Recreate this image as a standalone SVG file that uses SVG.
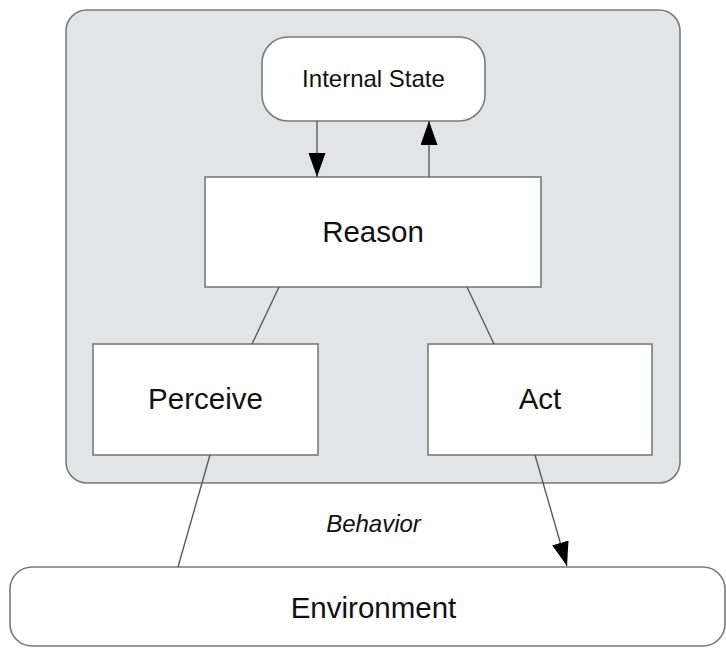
<svg xmlns="http://www.w3.org/2000/svg" width="726" height="648" viewBox="0 0 726 648">
<defs>
<marker id="arr" markerUnits="userSpaceOnUse" markerWidth="26" markerHeight="18" refX="24" refY="8.5" orient="auto">
<path d="M0,0 L24,8.5 L0,17 z" fill="#000"/>
</marker>
<style>
.box{fill:#fff;stroke:#7a7a7a;stroke-width:1.6}
.t{font-family:"Liberation Sans",Arial,sans-serif;fill:#111;text-anchor:middle}
.big{font-size:29.5px}
.small{font-size:24px}
.edge{stroke:#5a5a5a;stroke-width:1.4;fill:none}
</style>
</defs>
<rect width="726" height="648" fill="#fff"/>
<g id="agent">
<rect x="66" y="10" width="614" height="473" rx="21" ry="21" fill="#e2e5e8" stroke="#7a7a7a" stroke-width="1.6"/>
</g>
<g id="internal-state">
<rect class="box" x="262" y="37" width="223" height="84" rx="26" ry="26"/>
<text class="t small" x="373.5" y="87">Internal State</text>
</g>
<g id="reason">
<rect class="box" x="205" y="177" width="336" height="110"/>
<text class="t big" x="373" y="242">Reason</text>
</g>
<g id="perceive">
<rect class="box" x="93" y="344" width="225" height="111"/>
<text class="t big" x="205.5" y="409">Perceive</text>
</g>
<g id="act">
<rect class="box" x="428" y="344" width="224" height="111"/>
<text class="t big" x="540" y="409">Act</text>
</g>
<g id="environment">
<rect class="box" x="10" y="567" width="715" height="79" rx="22" ry="22"/>
<text class="t big" x="373.5" y="618">Environment</text>
</g>
<g id="connectors">
<line class="edge" x1="317" y1="121" x2="317" y2="177" marker-end="url(#arr)"/>
<line class="edge" x1="429" y1="177" x2="429" y2="121" marker-end="url(#arr)"/>
<line class="edge" x1="279" y1="287" x2="252" y2="344"/>
<line class="edge" x1="467" y1="287" x2="494" y2="344"/>
<line class="edge" x1="210" y1="455" x2="178" y2="567"/>
<line class="edge" x1="535" y1="455" x2="567" y2="566" marker-end="url(#arr)"/>
<text class="t small" x="373.5" y="532" font-style="italic">Behavior</text>
</g>
</svg>
